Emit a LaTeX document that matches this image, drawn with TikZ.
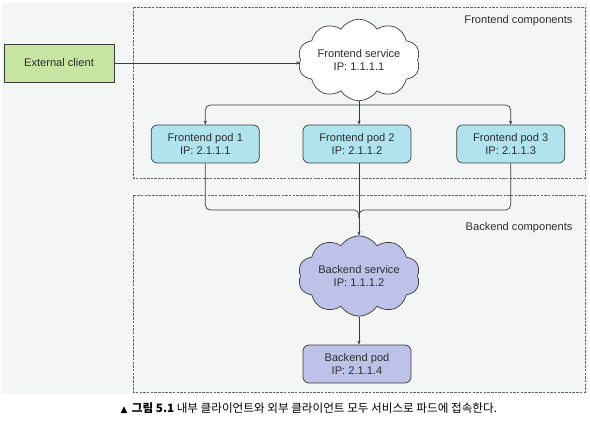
\documentclass[tikz,border=0pt]{standalone}
\usepackage{fontspec}
\setmainfont{Liberation Sans}
\newfontfamily\krfont{Noto Sans CJK KR}
\newfontfamily\symfont{DejaVu Sans}
\usetikzlibrary{shapes.symbols, arrows.meta, positioning}
\definecolor{bggray}{HTML}{F4F6F6}
\definecolor{podcyan}{HTML}{B0E3EE}
\definecolor{backlav}{HTML}{BEC2E8}
\definecolor{clientgreen}{HTML}{C6E5A3}
\definecolor{edgegray}{HTML}{3C3C3C}
\definecolor{txtgray}{HTML}{2E2E2E}
\begin{document}
\begin{tikzpicture}[x=1pt, y=-1pt,
    font=\fontsize{11.1}{12.6}\selectfont, text=txtgray,
    group/.style={draw=gray!80!black, dash pattern=on 2.5pt off 1.2pt, line width=0.7pt},
    pod/.style={draw=edgegray, line width=0.7pt, rounded corners=6pt, minimum width=108pt, minimum height=38pt, align=center, inner sep=1pt},
    svc/.style={cloud, cloud puffs=10, cloud puff arc=115, aspect=1.8, draw=edgegray, line width=0.7pt, minimum width=122pt, minimum height=68pt, align=center, inner sep=0pt},
    wire/.style={draw=edgegray, line width=0.7pt, rounded corners=5pt},
    arrow/.style={wire, -{Stealth[length=4pt, width=3.2pt]}}]
  \useasboundingbox (0,0) rectangle (590,428);
  \fill[bggray] (2,3) rectangle (588,394);
  % component groups
  \draw[group] (133,7) rectangle (585,178);
  \draw[group] (133,195) rectangle (585,392);
  \node[anchor=east] (fl) at (576,21) {Frontend components};
  \node[anchor=east] (bl) at (576,228) {Backend components};
  % nodes
  \node[draw=edgegray, fill=clientgreen, line width=0.7pt, minimum width=110pt, minimum height=38pt] (ec) at (59,63) {External client};
  \node[svc, fill=white] (fs) at (359,60) {Frontend service\\IP: 1.1.1.1};
  \node[pod, fill=podcyan] (p2) at (357,144) {Frontend pod 2\\IP: 2.1.1.2};
  \node[pod, fill=podcyan, left=43pt of p2] (p1) {Frontend pod 1\\IP: 2.1.1.1};
  \node[pod, fill=podcyan, right=45pt of p2] (p3) {Frontend pod 3\\IP: 2.1.1.3};
  \node[svc, fill=backlav] (bs) at (359,276) {Backend service\\IP: 1.1.1.2};
  \node[pod, fill=backlav] (bp) at (357,364) {Backend pod\\IP: 2.1.1.4};
  \coordinate (split) at (359,105);
  \coordinate (join) at (359,218);
  % connectors
  \draw[arrow] (ec.east) -- (ec.east -| fs.west);
  \draw[arrow] (fs.south) -- (fs.south |- p2.north);
  \draw[arrow] (split) -| (p1.north);
  \draw[arrow] (split) -| (p3.north);
  \draw[wire] (p1.south) |- (join |- 0,210) -- (join);
  \draw[wire] (p3.south) |- (join |- 0,210) -- (join);
  \draw[arrow] (join |- p2.south) -- (bs.north);
  \draw[arrow] (bs.south) -- (bs.south |- bp.north);
  % caption
  \node[anchor=west, font=\krfont\fontsize{11.6}{13}\selectfont, text=black] (cap) at (117,408) {{\symfont\small▲}\, \textbf{그림 5.1} 내부 클라이언트와 외부 클라이언트 모두 서비스로 파드에 접속한다.};
\end{tikzpicture}
\end{document}
